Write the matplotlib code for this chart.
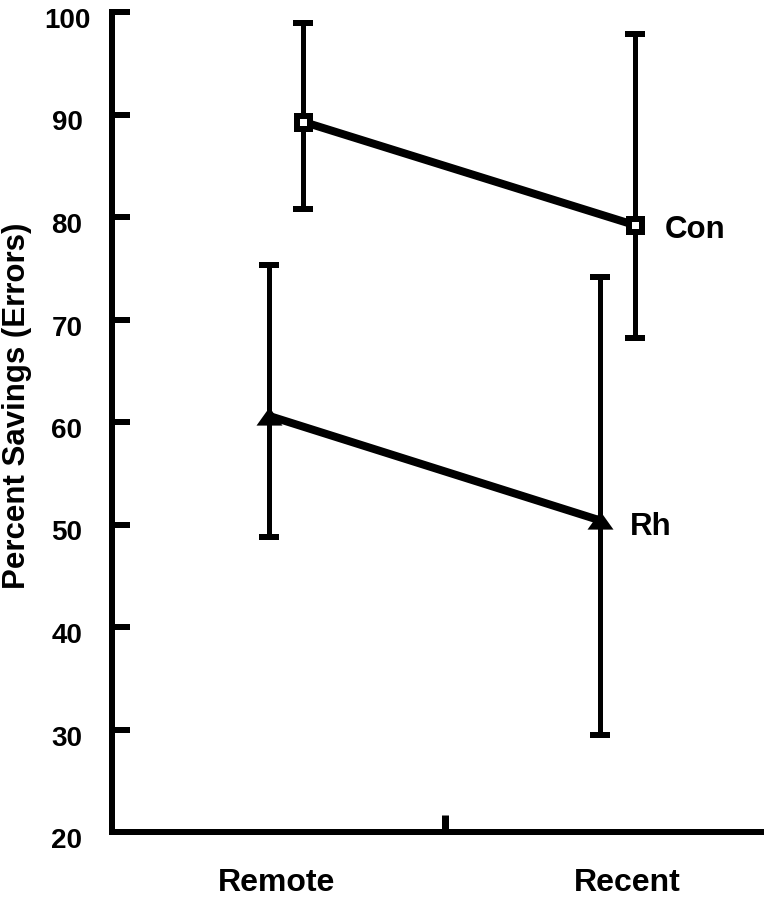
import matplotlib
matplotlib.use("Agg")
import matplotlib.pyplot as plt
from matplotlib.path import Path
from matplotlib.transforms import ScaledTranslation
import numpy as np

plt.rcParams['font.family'] = ['Liberation Sans', 'DejaVu Sans']
plt.rcParams['font.weight'] = 'bold'

# ---- data ----
categories = ["Remote", "Recent"]
con_mean = [89.3, 79.2]
con_upper = [98.9, 97.9]
con_lower = [80.8, 68.2]
rh_mean = [60.6, 50.4]
rh_upper = [75.3, 74.1]
rh_lower = [48.8, 29.5]
yticks = [20, 30, 40, 50, 60, 70, 80, 90, 100]
series_labels = ["Con", "Rh"]

DPI = 100
fig = plt.figure(figsize=(7.64, 9.0), dpi=DPI)
L, R, T, B = 112, 761, 12, 832
ax = fig.add_axes([L / 764, 1 - B / 900, (R - L) / 764, (B - T) / 900])

px = 72.0 / DPI  # points per pixel

base = np.arange(len(categories))
con_x = base + np.array([0.074, 0.023])
rh_x = base + np.array([-0.023, -0.077])

con_mean_a = np.array(con_mean)
rh_mean_a = np.array(rh_mean)
con_err = [con_mean_a - np.array(con_lower), np.array(con_upper) - con_mean_a]
rh_err = [rh_mean_a - np.array(rh_lower), np.array(rh_upper) - rh_mean_a]

# connecting lines
ax.plot(con_x, con_mean, color='black', lw=8 * px, solid_capstyle='butt', zorder=2)
ax.plot(rh_x, rh_mean, color='black', lw=8 * px, solid_capstyle='butt', zorder=2)

# error bars
for xs, ms, er in [(con_x, con_mean, con_err), (rh_x, rh_mean, rh_err)]:
    ax.errorbar(xs, ms, yerr=er, fmt='none', ecolor='black',
                elinewidth=5 * px, capsize=10 * px, capthick=6 * px, zorder=3)

# markers
tri = Path([(-1, -0.7), (1, -0.7), (0, 0.7), (-1, -0.7)],
           [Path.MOVETO, Path.LINETO, Path.LINETO, Path.CLOSEPOLY])
ax.plot(con_x, con_mean, linestyle='none', marker='s', markersize=13 * px,
        markerfacecolor='white', markeredgecolor='black', markeredgewidth=6 * px, zorder=4)
ax.plot(rh_x, rh_mean, linestyle='none', marker=tri, markersize=26 * px,
        markerfacecolor='black', markeredgecolor='black', markeredgewidth=0, zorder=4)

# series labels
ax.text(1.109, 78.7, series_labels[0], fontsize=22.5, fontweight='bold', ha='left', va='center')
ax.text(1.009, 49.8, series_labels[1], fontsize=22.5, fontweight='bold', ha='left', va='center')

# axes styling
ax.set_ylim(20, 100)
ax.set_xlim((L - 277) / 350, (R - 277) / 350)
for s in ['top', 'right']:
    ax.spines[s].set_visible(False)
for s in ['left', 'bottom']:
    ax.spines[s].set_linewidth(6 * px)
    ax.spines[s].set_capstyle('projecting')

ax.set_yticks(yticks)
ax.set_yticklabels([str(v) for v in yticks])
ax.tick_params(axis='y', direction='in', length=18 * px, width=6 * px,
               pad=45 * px, labelsize=20)
for lab in ax.get_yticklabels():
    lab.set_horizontalalignment('center')
    lab.set_fontweight('bold')
    lab.set_transform(lab.get_transform() + ScaledTranslation(0, -6 / DPI, fig.dpi_scale_trans))

ax.set_xticks(base)
ax.set_xticklabels(categories)
ax.set_xticks([0.48], minor=True)
ax.tick_params(axis='x', which='major', length=0, pad=51 * px, labelsize=23)
ax.tick_params(axis='x', which='minor', direction='in', length=17 * px, width=7 * px)
for lab in ax.get_xticklabels():
    lab.set_verticalalignment('center')
    lab.set_fontweight('bold')

fig.text(17 / 764, 1 - 406 / 900, "Percent Savings (Errors)", rotation=90,
         ha='center', va='center', fontsize=22.5, fontweight='bold')

fig.savefig("out.png", dpi=DPI)
